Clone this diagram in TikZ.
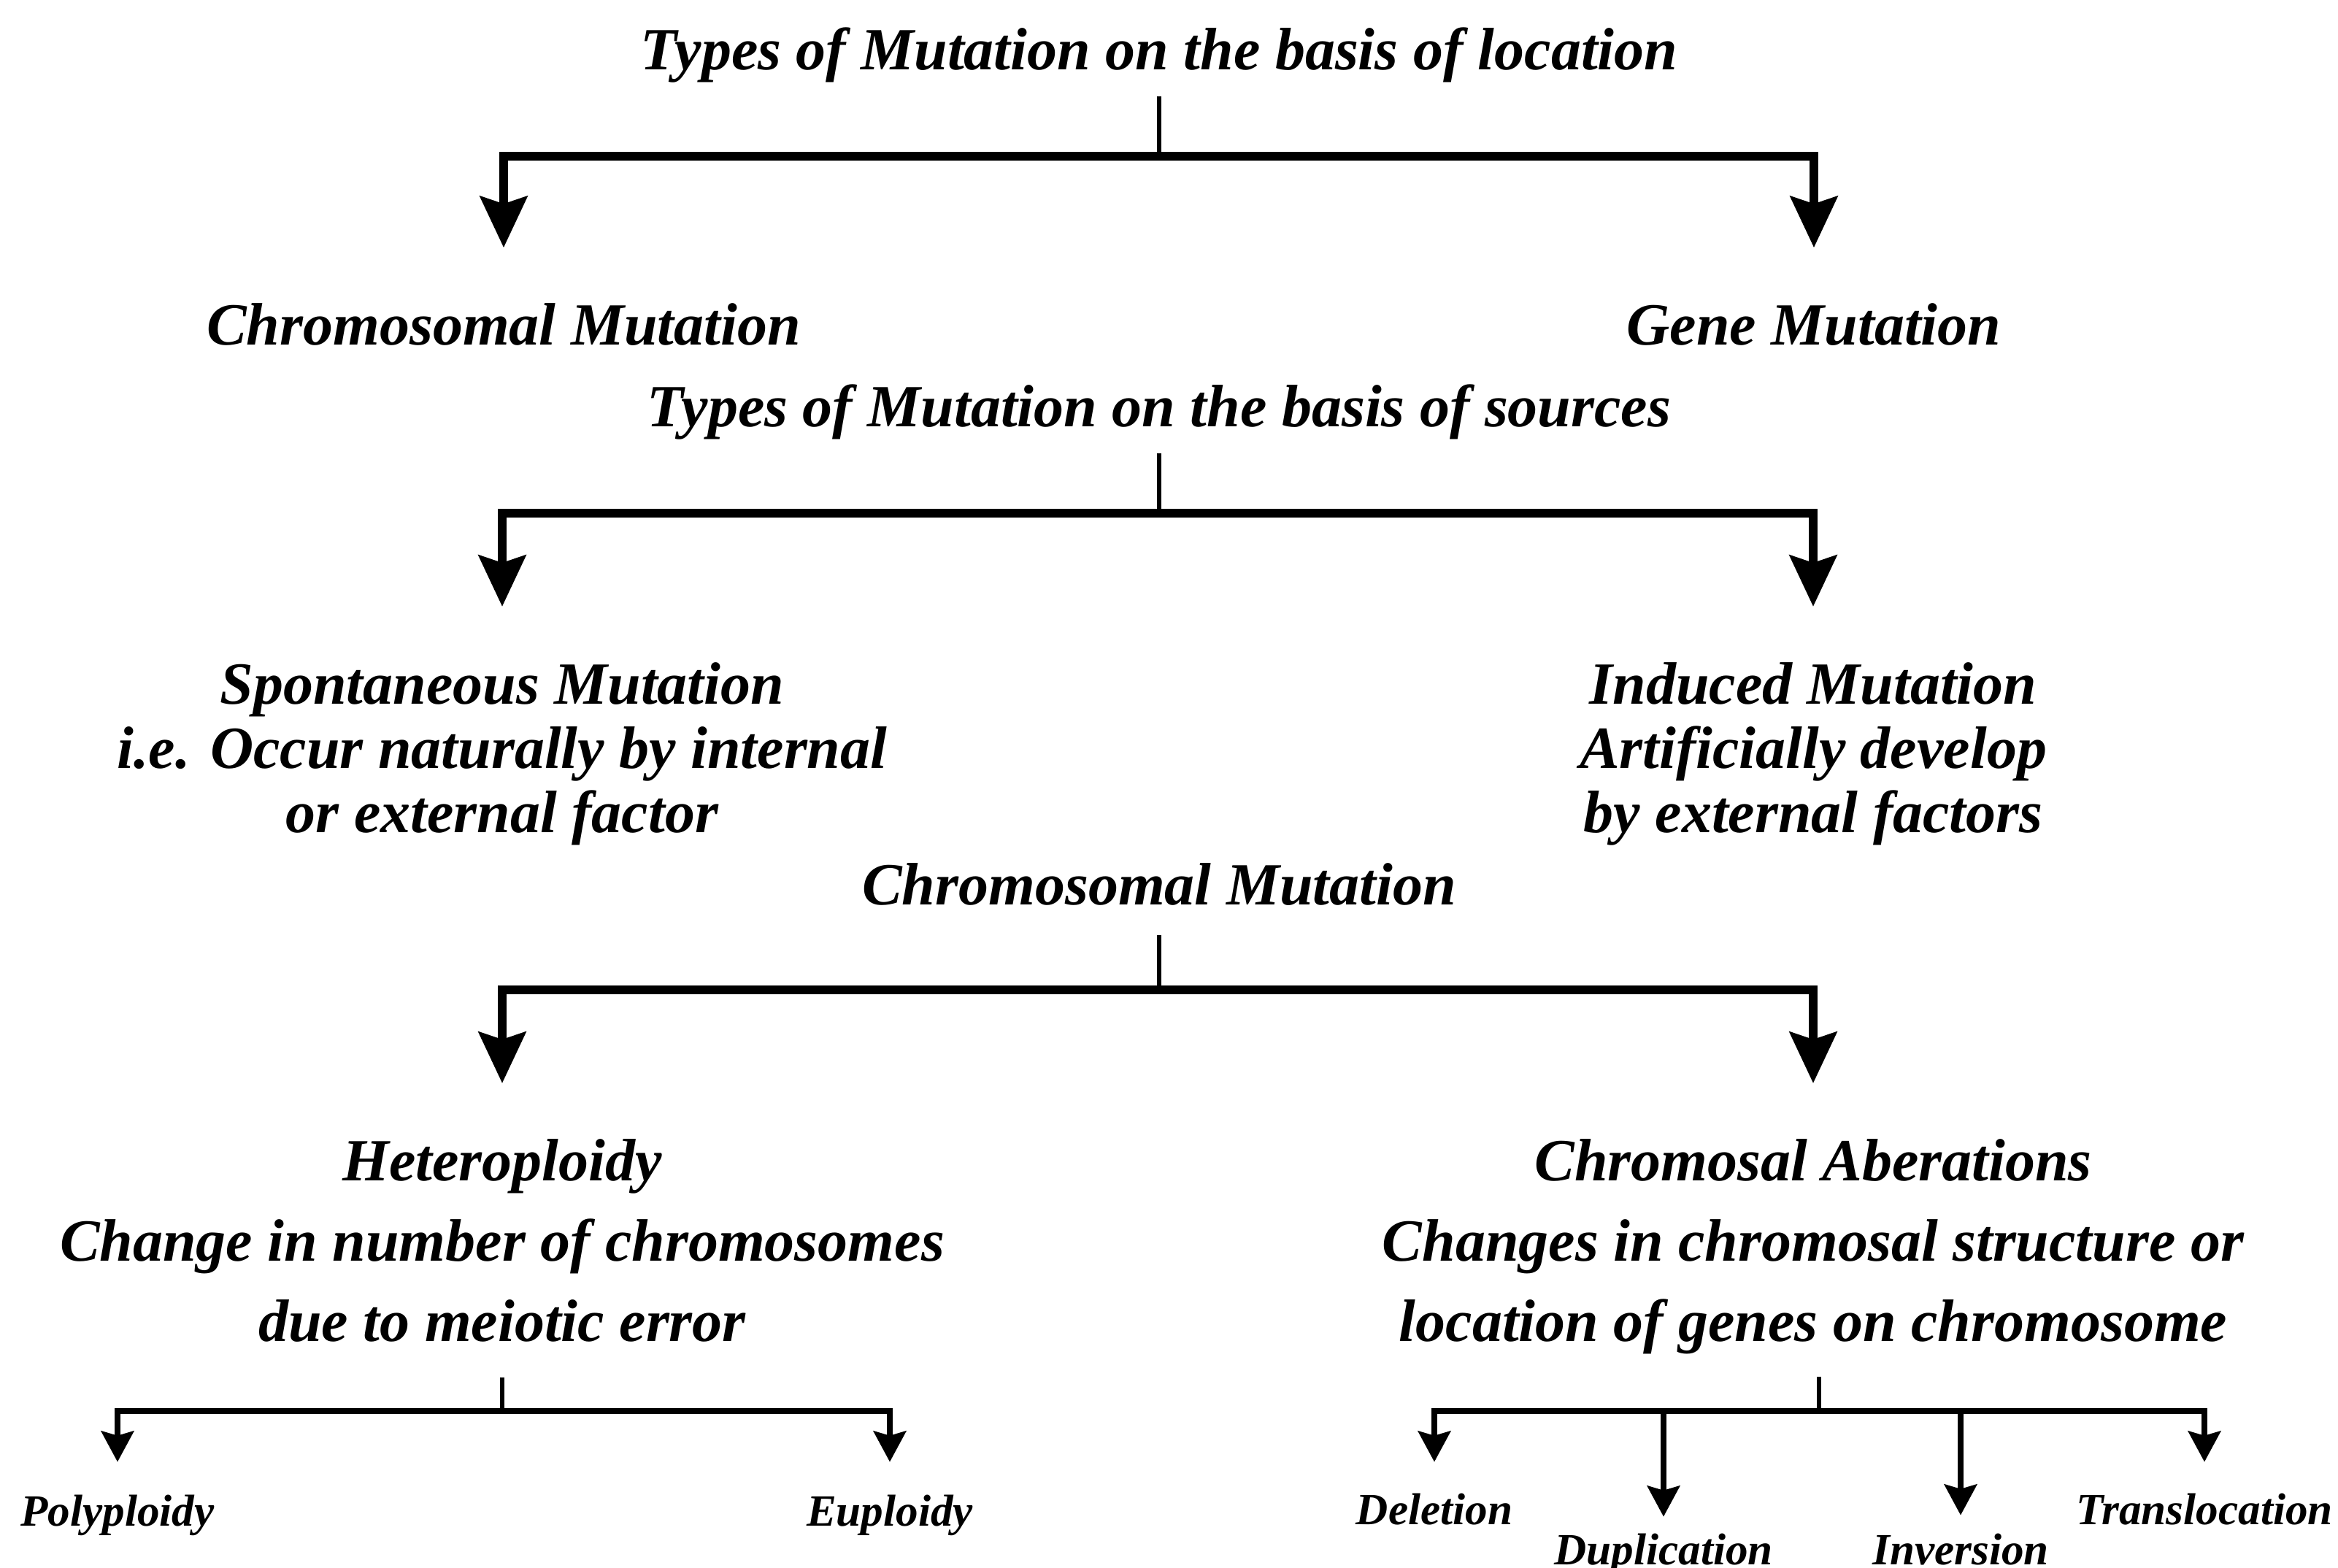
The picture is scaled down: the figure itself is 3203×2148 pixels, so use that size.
\documentclass[tikz,border=0pt]{standalone}
\usepackage{fontspec}
\setmainfont{Liberation Serif}
\usetikzlibrary{arrows.meta}
\begin{document}
\begin{tikzpicture}[x=0.25pt,y=-0.25pt,
  lbl/.style={font=\fontsize{20.5}{22}\selectfont\bfseries\itshape, align=center, inner sep=0pt, anchor=base},
  multi/.style={font=\fontsize{20.5}{22}\selectfont\bfseries\itshape, align=center, inner sep=0pt, anchor=north},
  multiw/.style={font=\fontsize{20.5}{27.5}\selectfont\bfseries\itshape, align=center, inner sep=0pt, anchor=north},
  sml/.style={font=\fontsize{15.3}{16}\selectfont\bfseries\itshape, inner sep=0pt, anchor=base},
  stemline/.style={line width=1.5pt},
  bigarrow/.style={line width=3.2pt, -{Stealth[length=17.5pt,width=16pt,inset=2.5pt]}, shorten >=19pt},
  smallarrow/.style={line width=2.2pt, -{Stealth[length=10.5pt,width=11pt,inset=1.5pt]}},
]
\fill[white] (0,0) rectangle (3203,2148);
\useasboundingbox (0,0) rectangle (3203,2148);

% Level 1
\node[lbl] (t1) at (1588,96) {Types of Mutation on the basis of location};
\node[lbl] (cm) at (690,473) {Chromosomal Mutation};
\node[lbl] (gm) at (2485,473) {Gene Mutation};
\coordinate (j1) at (1588,214);
\draw[stemline, shorten <=4.5pt] (t1.south) -- (j1);
\draw[bigarrow] (j1) -| (cm.north);
\draw[bigarrow] (j1) -| (gm.north);

% Level 2
\node[lbl] (t2) at (1588,585) {Types of Mutation on the basis of sources};
\node[multi] (sp) at (688,907) {Spontaneous Mutation\\ i.e. Occur naturally by internal\\ or external factor};
\node[multi] (ind) at (2484,907) {Induced Mutation\\ Artificially develop\\ by external factors};
\coordinate (j2) at (1588,703);
\draw[stemline, shorten <=4.3pt] (t2.south) -- (j2);
\draw[bigarrow] (j2) -| (sp.north);
\draw[bigarrow] (j2) -| (ind.north);

% Level 3
\node[lbl] (cm2) at (1588,1240) {Chromosomal Mutation};
\node[multiw] (het) at (688,1560) {Heteroploidy\\ Change in number of chromosomes\\ due to meiotic error};
\node[multiw] (ab) at (2484,1560) {Chromosal Aberations\\ Changes in chromosal structure or\\ location of genes on chromosome};
\coordinate (j3) at (1588,1356);
\draw[stemline, shorten <=9.75pt] (cm2.south) -- (j3);
\draw[bigarrow] (j3) -| (het.north);
\draw[bigarrow] (j3) -| (ab.north);

% Level 4 left
\node[sml] (poly) at (161,2090) {Polyploidy};
\node[sml] (eup) at (1219,2090) {Euploidy};
\coordinate (j4) at (688,1933);
\draw[stemline, shorten <=12pt] (het.south) -- (j4);
\draw[smallarrow, shorten >=11pt] (j4) -| (poly.north);
\draw[smallarrow, shorten >=11pt] (j4) -| (eup.north);

% Level 4 right
\node[sml] (del) at (1965,2088) {Deletion};
\node[sml] (dup) at (2279,2143) {Duplication};
\node[sml] (inv) at (2686,2143) {Inversion};
\node[sml] (tra) at (3020,2088) {Translocation};
\coordinate (j5) at (2492,1933);
\draw[stemline, shorten <=7.5pt] (ab.south -| j5) -- (j5);
\draw[smallarrow, shorten >=10.5pt] (j5) -| (del.north);
\draw[smallarrow, shorten >=5.5pt] (j5) -| (dup.north);
\draw[smallarrow, shorten >=6pt] (j5) -| (inv.north);
\draw[smallarrow, shorten >=10.5pt] (j5) -| (tra.north);
\end{tikzpicture}
\end{document}
